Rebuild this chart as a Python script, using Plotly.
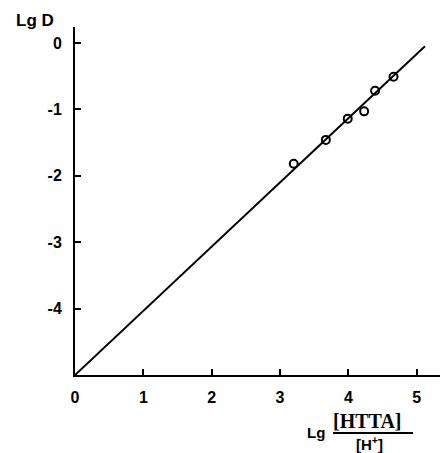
import plotly.graph_objects as go

# data
pts_x = [3.20, 3.67, 3.99, 4.23, 4.39, 4.66]
pts_y = [-1.82, -1.46, -1.14, -1.03, -0.72, -0.51]
fit_x = [0.0, 5.12]
fit_y = [-5.0, -0.05]
x_ticks = [0, 1, 2, 3, 4, 5]
x_ticktext = ["0", "1", "2", "3", "4", "5"]
y_ticks = [0, -1, -2, -3, -4]
y_ticktext = ["0", "-1", "-2", "-3", "-4"]

tickfont = dict(family="Liberation Sans", size=16, color="black")

fig = go.Figure()
fig.add_trace(go.Scatter(x=fit_x, y=fit_y, mode="lines",
                         line=dict(color="black", width=2), showlegend=False))
fig.add_trace(go.Scatter(x=pts_x, y=pts_y, mode="markers",
                         marker=dict(symbol="circle-open", size=8, color="black",
                                     line=dict(width=2, color="black")),
                         showlegend=False))

fig.update_layout(
    width=440, height=453,
    margin=dict(l=75, r=0, t=27, b=78),
    paper_bgcolor="white", plot_bgcolor="white",
    xaxis=dict(range=[0, 5.34], tickvals=x_ticks,
               ticktext=["<b>%s</b>" % t for t in x_ticktext],
               automargin=False,
               showgrid=False, zeroline=False, showline=True, linecolor="black",
               linewidth=2, ticks="inside", ticklen=6, tickwidth=2, tickcolor="black",
               ticklabelstandoff=7, tickfont=tickfont),
    yaxis=dict(range=[-5, 0.24], tickvals=y_ticks,
               ticktext=["<b>%s</b>" % t for t in y_ticktext],
               automargin=False,
               showgrid=False, zeroline=False, showline=True, linecolor="black",
               linewidth=2, ticks="inside", ticklen=6, tickwidth=2, tickcolor="black",
               ticklabelstandoff=8, tickfont=tickfont),
)

fig.add_annotation(xref="paper", yref="paper", x=-0.11, y=1.02, xanchor="center",
                   yanchor="middle", text="<b>Lg D</b>", showarrow=False,
                   font=dict(family="Liberation Sans", size=17, color="black"))
fig.add_annotation(xref="paper", yref="paper", x=0.66, y=-0.164, xanchor="center",
                   yanchor="middle", text="<b>Lg</b>", showarrow=False,
                   font=dict(family="Liberation Sans", size=15, color="black"))
fig.add_annotation(xref="paper", yref="paper", x=0.80, y=-0.133, xanchor="center",
                   yanchor="middle", text="<b>[HTTA]</b>", showarrow=False,
                   font=dict(family="Liberation Serif", size=20, color="black"))
fig.add_annotation(xref="paper", yref="paper", x=0.808, y=-0.196, xanchor="center",
                   yanchor="middle", text="<b>[H<sup>+</sup>]</b>", showarrow=False,
                   font=dict(family="Liberation Sans", size=15, color="black"))
fig.add_shape(type="line", xref="paper", yref="paper", x0=0.707, x1=0.926,
              y0=-0.167, y1=-0.167, line=dict(color="black", width=2))

fig.write_html("out.html", config={"displayModeBar": False},
               post_script="document.body.style.margin='0';")
